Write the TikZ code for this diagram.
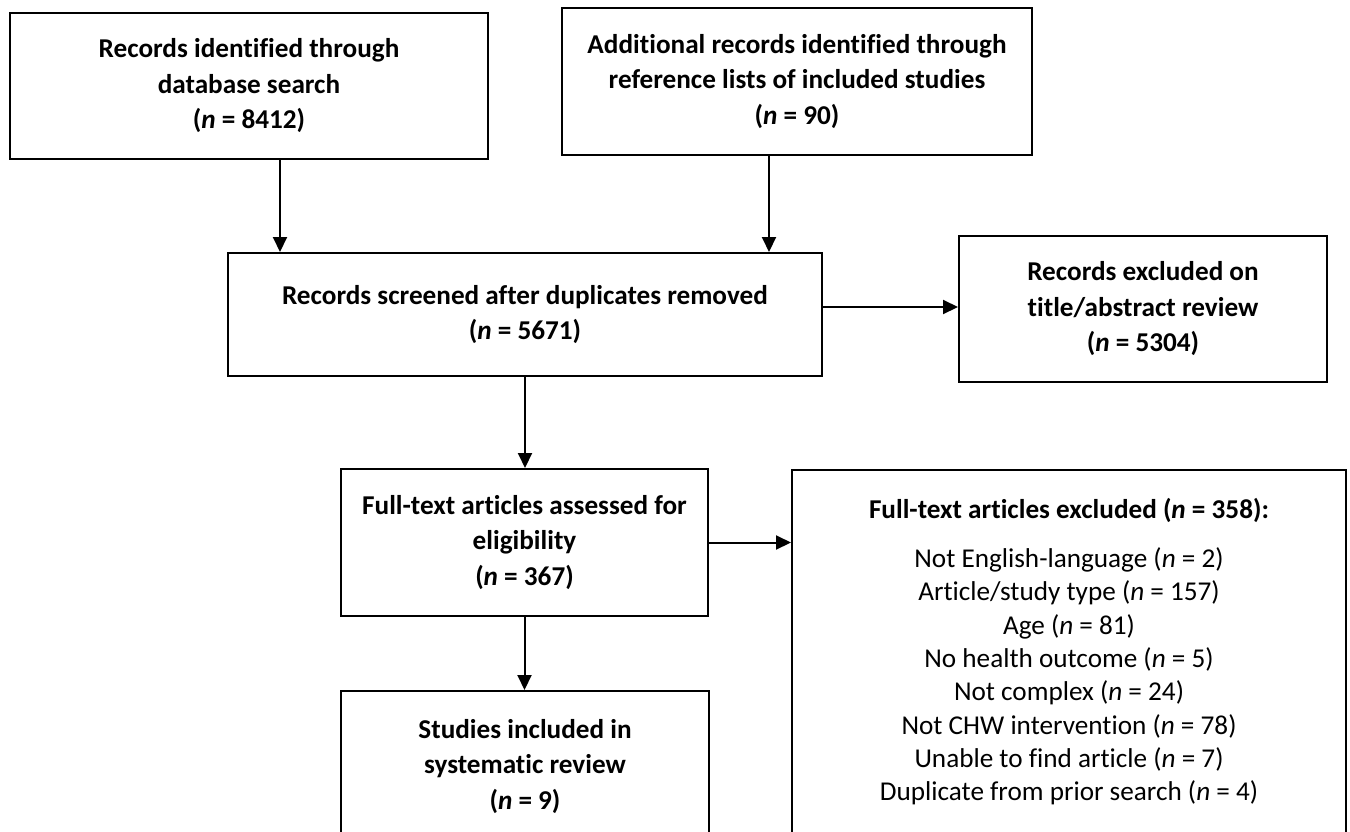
\documentclass[tikz,border=0pt]{standalone}
\usepackage{fontspec}
\setmainfont{Carlito}[Ligatures={TeX,NoCommon}]
\usetikzlibrary{arrows.meta}

\begin{document}
\begin{tikzpicture}[x=1bp, y=-1bp,
        box/.style={draw=black, line width=2bp, fill=white, align=center, inner sep=0pt,
                    font=\fontsize{27.2bp}{35.5bp}\selectfont\bfseries},
        openbox/.style={box, anchor=north, inner ysep=28bp, text depth=60bp},
        listbox/.style={openbox, font=\fontsize{27.2bp}{33.3bp}\selectfont},
        arrow/.style={-{Triangle[length=15bp, width=14bp]}, draw=black, line width=2bp}
      ]
        \useasboundingbox (0,0) rectangle (1350,831);

        \node[box, minimum width=478bp, minimum height=146bp] (dbsearch) at (249,86)
            {Records identified through\\database search\\(\textit{n} = 8412)};
        \node[box, minimum width=470bp, minimum height=147bp] (reflists) at (797,81.5)
            {Additional records identified through\\reference lists of included studies\\(\textit{n} = 90)};
        \node[box, minimum width=594bp, minimum height=123bp] (screened) at (525,314.5)
            {Records screened after duplicates removed\\(\textit{n} = 5671)};
        \node[box, minimum width=368bp, minimum height=146bp] (titleexcl) at (1143,309)
            {Records excluded on\\title/abstract review\\(\textit{n} = 5304)};
        \node[box, minimum width=367bp, minimum height=147bp] (fulltext) at (524.5,542.5)
            {Full-text articles assessed for\\eligibility\\(\textit{n} = 367)};
        \node[openbox, minimum width=368bp] (included) at (525,690)
            {Studies included in\\systematic review\\(\textit{n} = 9)};
        \node[listbox, minimum width=554bp] (ftexcl) at (1069,469)
            {\textbf{Full-text articles excluded (\textit{n} = 358):}\\[16bp]
             Not English-language (\textit{n} = 2)\\
             Article/study type (\textit{n} = 157)\\
             Age (\textit{n} = 81)\\
             No health outcome (\textit{n} = 5)\\
             Not complex (\textit{n} = 24)\\
             Not CHW intervention (\textit{n} = 78)\\
             Unable to find article (\textit{n} = 7)\\
             Duplicate from prior search (\textit{n} = 4)};

        \coordinate (dbdrop)  at (280,0);
        \coordinate (refdrop) at (769,0);
        \coordinate (scrside) at (0,307);

        \draw[arrow] (dbsearch.south -| dbdrop)  -- (screened.north -| dbdrop);
        \draw[arrow] (reflists.south -| refdrop) -- (screened.north -| refdrop);
        \draw[arrow] (screened.east |- scrside)  -- (titleexcl.west |- scrside);
        \draw[arrow] (screened.south) -- (screened.south |- fulltext.north);
        \draw[arrow] (fulltext.east)  -- (fulltext.east -| ftexcl.west);
        \draw[arrow] (fulltext.south) -- (fulltext.south |- included.north);
      \end{tikzpicture}
\end{document}
